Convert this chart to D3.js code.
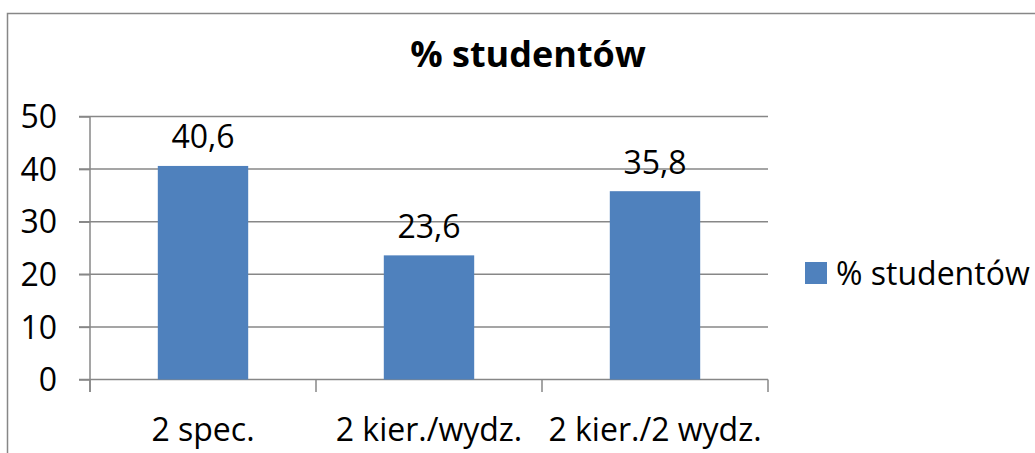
<!DOCTYPE html>
<html><head><meta charset="utf-8">
<script src="https://cdn.jsdelivr.net/npm/d3@7"></script>
<style>html,body{margin:0;padding:0;background:#fff;}svg{display:block;font-family:"Open Sans",sans-serif;}</style>
</head><body>
<svg id="c" width="1035" height="453"></svg>
<script>
const categories = ["2 spec.", "2 kier./wydz.", "2 kier./2 wydz."];
const values = [40.6, 23.6, 35.8];
const valueLabels = ["40,6", "23,6", "35,8"];
const yTicks = [0, 10, 20, 30, 40, 50];
const seriesName = "% studentów";
const title = "% studentów";

const svg = d3.select("#c");
const W = 1035, H = 453;
const grid = "#878787";
const barColor = "#4F81BD";
const fs = 32;

// outer border
svg.append("rect").attr("x", 7.5).attr("y", 13.5).attr("width", W + 20).attr("height", H + 20)
  .attr("fill", "none").attr("stroke", grid).attr("stroke-width", 1.5);

const x = d3.scaleBand().domain(categories).range([90, 768]).paddingInner(0).paddingOuter(0);
const y = d3.scaleLinear().domain([0, 50]).range([379.5, 116.5]);

// gridlines
svg.append("g").selectAll("line").data(yTicks.filter(t => t > 0)).join("line")
  .attr("x1", 79).attr("x2", 768).attr("y1", d => y(d)).attr("y2", d => y(d))
  .attr("stroke", grid).attr("stroke-width", 1.5);

// y axis
const yAxis = d3.axisLeft(y).tickValues(yTicks).tickSize(11).tickPadding(22).tickFormat(d3.format("d"));
const gy = svg.append("g").attr("transform", "translate(90,0)").call(yAxis);
gy.select(".domain").remove();
gy.selectAll(".tick line").attr("stroke", grid).attr("stroke-width", 1.5);
gy.selectAll(".tick text").attr("font-size", fs).attr("font-family", "Open Sans").attr("fill", "#000").attr("dy", "0.35em");
svg.append("line").attr("x1", 90).attr("x2", 90).attr("y1", y(50)).attr("y2", 392)
  .attr("stroke", grid).attr("stroke-width", 1.5);

// x axis
svg.append("line").attr("x1", 79).attr("x2", 768).attr("y1", y(0)).attr("y2", y(0))
  .attr("stroke", grid).attr("stroke-width", 1.5);
const bounds = categories.map(c => x(c)).concat([x(categories[categories.length - 1]) + x.bandwidth()]);
svg.append("g").selectAll("line").data(bounds).join("line")
  .attr("x1", d => d).attr("x2", d => d).attr("y1", y(0)).attr("y2", 392)
  .attr("stroke", grid).attr("stroke-width", 1.5);
svg.append("g").selectAll("text").data(categories).join("text")
  .attr("x", d => x(d) + x.bandwidth() / 2).attr("y", 441)
  .attr("text-anchor", "middle").attr("font-size", fs).attr("fill", "#000").text(d => d);

// bars
const bw = x.bandwidth() / 2.5;
svg.append("g").selectAll("rect").data(values).join("rect")
  .attr("x", (d, i) => x(categories[i]) + x.bandwidth() / 2 - bw / 2)
  .attr("width", bw)
  .attr("y", d => y(d)).attr("height", d => y(0) - y(d))
  .attr("fill", barColor);

// data labels
svg.append("g").selectAll("text").data(values).join("text")
  .attr("x", (d, i) => x(categories[i]) + x.bandwidth() / 2)
  .attr("y", d => y(d) - 17.5)
  .attr("text-anchor", "middle").attr("font-size", fs).attr("fill", "#000")
  .text((d, i) => valueLabels[i]);

// title
svg.append("text").attr("x", 528).attr("y", 67).attr("text-anchor", "middle")
  .attr("font-size", 36).attr("font-weight", "bold").attr("fill", "#000").text(title);

// legend
svg.append("rect").attr("x", 805).attr("y", 262).attr("width", 22).attr("height", 22).attr("fill", barColor);
svg.append("text").attr("x", 836).attr("y", 285).attr("font-size", fs).attr("fill", "#000").text(seriesName);
</script>
</body></html>
